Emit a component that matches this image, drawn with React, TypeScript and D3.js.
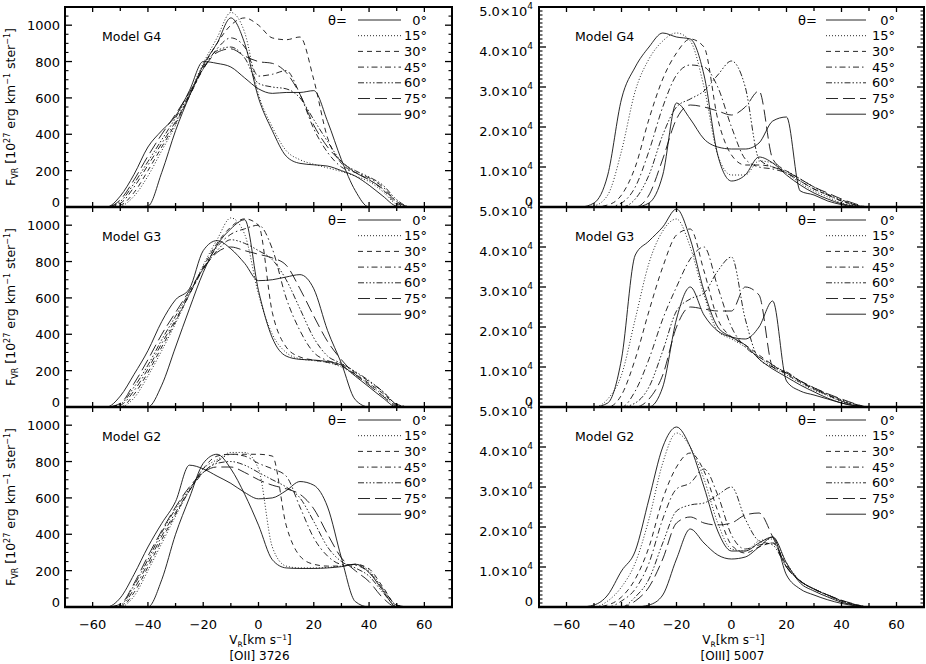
import React from "react";
import * as d3 from "d3";

// ---------- data ----------
const VELOCITY = [-60, -55, -50, -45, -40, -35, -30, -25, -20, -15, -10, -5, 0, 5, 10, 15, 20, 25, 30, 35, 40, 45, 50, 55, 60];
const ANGLE_LABELS = ["0°", "15°", "30°", "45°", "60°", "75°", "90°"];
const MODEL_NAMES = ["Model G4", "Model G3", "Model G2"];
const LINE_NAMES = ["[OII] 3726", "[OIII] 5007"];

const OII_TICKS = [0, 200, 400, 600, 800, 1000];
const OIII_TICKS = [0, 10000, 20000, 30000, 40000, 50000];
const VEL_TICKS = [-60, -40, -20, 0, 20, 40, 60];

// [OII] 3726, flux in 1e27 erg km^-1 ster^-1 ; rows: theta = 0,15,30,45,60,75,90
const G4_OII = [
  [0, 0, 0, 0, 5, 190, 420, 610, 780, 900, 1040, 900, 600, 420, 280, 240, 232, 225, 200, 170, 120, 60, 5, 0, 0],
  [0, 0, 5, 60, 170, 310, 450, 620, 790, 930, 1070, 960, 620, 440, 310, 260, 235, 215, 195, 170, 140, 85, 15, 0, 0],
  [0, 0, 10, 80, 200, 330, 460, 610, 770, 900, 1000, 1040, 1000, 930, 920, 935, 700, 380, 240, 190, 150, 95, 20, 0, 0],
  [0, 0, 20, 110, 230, 350, 470, 610, 760, 870, 930, 880, 720, 730, 750, 620, 430, 300, 220, 190, 160, 110, 30, 0, 0],
  [0, 0, 30, 130, 250, 370, 490, 620, 760, 860, 880, 820, 680, 660, 650, 600, 480, 360, 250, 200, 165, 120, 40, 0, 0],
  [0, 0, 40, 150, 280, 400, 510, 630, 760, 850, 870, 830, 800, 790, 740, 620, 450, 330, 250, 190, 150, 100, 30, 0, 0],
  [0, 0, 60, 180, 330, 420, 500, 640, 800, 790, 770, 710, 650, 625, 630, 630, 640, 470, 260, 90, 0, 0, 0, 0, 0],
];
const G3_OII = [
  [0, 0, 0, 0, 0, 120, 330, 540, 740, 890, 980, 1030, 640, 380, 280, 262, 258, 250, 230, 170, 110, 50, 0, 0, 0],
  [0, 0, 0, 50, 170, 310, 460, 620, 780, 920, 1040, 950, 620, 400, 300, 265, 255, 245, 220, 175, 125, 65, 8, 0, 0],
  [0, 0, 0, 70, 190, 330, 470, 620, 770, 900, 990, 1035, 1000, 520, 330, 275, 258, 245, 225, 180, 130, 75, 12, 0, 0],
  [0, 0, 10, 90, 210, 350, 480, 620, 760, 880, 950, 980, 1000, 870, 600, 420, 300, 255, 235, 190, 140, 85, 15, 0, 0],
  [0, 0, 15, 110, 230, 370, 500, 630, 760, 860, 920, 900, 860, 810, 700, 540, 380, 280, 240, 195, 145, 85, 15, 0, 0],
  [0, 0, 20, 130, 260, 400, 520, 640, 760, 850, 880, 860, 840, 820, 780, 650, 500, 360, 260, 180, 120, 60, 5, 0, 0],
  [0, 0, 60, 180, 310, 470, 590, 650, 860, 915, 870, 790, 695, 700, 715, 728, 650, 420, 240, 40, 0, 0, 0, 0, 0],
];
const G2_OII = [
  [0, 0, 0, 0, 0, 150, 400, 600, 790, 840, 760, 620, 450, 260, 215, 212, 212, 215, 222, 235, 190, 90, 0, 0, 0],
  [0, 0, 0, 60, 200, 350, 500, 640, 760, 810, 850, 850, 760, 330, 225, 215, 215, 218, 225, 235, 200, 100, 10, 0, 0],
  [0, 0, 0, 80, 220, 370, 510, 640, 760, 830, 840, 840, 840, 830, 450, 280, 235, 225, 225, 235, 210, 110, 10, 0, 0],
  [0, 0, 5, 100, 240, 390, 520, 640, 740, 800, 840, 830, 790, 760, 720, 550, 380, 280, 235, 230, 190, 100, 10, 0, 0],
  [0, 0, 10, 120, 260, 410, 540, 650, 740, 790, 800, 780, 740, 700, 660, 600, 470, 330, 250, 215, 170, 80, 5, 0, 0],
  [0, 0, 15, 130, 280, 420, 550, 660, 740, 770, 770, 740, 700, 670, 650, 620, 540, 400, 270, 200, 140, 50, 0, 0, 0],
  [0, 0, 50, 180, 330, 460, 580, 780, 760, 720, 680, 630, 595, 600, 640, 690, 670, 550, 270, 30, 0, 0, 0, 0, 0],
];

// [OIII] 5007
const G4_OIII = [
  [0, 0, 1000, 8000, 27000, 35000, 40000, 43500, 42500, 42000, 33000, 13000, 6500, 8000, 12500, 11000, 8000, 5500, 3500, 2000, 800, 200, 0, 0, 0],
  [0, 0, 300, 3000, 14000, 29000, 37000, 41500, 43500, 41500, 30000, 13000, 8000, 8000, 11500, 11000, 8500, 6000, 4000, 2500, 1000, 300, 0, 0, 0],
  [0, 0, 0, 500, 3000, 10000, 22000, 32000, 38500, 42000, 40000, 22000, 13000, 10500, 10500, 10000, 8500, 6500, 4500, 3000, 1500, 500, 0, 0, 0],
  [0, 0, 0, 0, 1000, 5000, 14000, 25000, 33000, 35500, 35000, 30000, 20000, 12000, 10000, 9500, 8500, 6500, 4500, 3000, 1500, 500, 0, 0, 0],
  [0, 0, 0, 0, 0, 2000, 8000, 18000, 25000, 27000, 29000, 33000, 36500, 30000, 12000, 10000, 9000, 7000, 5000, 3200, 1800, 600, 0, 0, 0],
  [0, 0, 0, 0, 0, 0, 3000, 12000, 22000, 25500, 25000, 24000, 23000, 25000, 29000, 12000, 9000, 7000, 5000, 3500, 2000, 800, 0, 0, 0],
  [0, 0, 0, 0, 0, 0, 1000, 8000, 26000, 22000, 17000, 15000, 14500, 14500, 16000, 21500, 22500, 4000, 3000, 1500, 600, 0, 0, 0, 0],
];
const G3_OIII = [
  [0, 0, 0, 1000, 12000, 38000, 41500, 45000, 49500, 42000, 29000, 20000, 17500, 15500, 12000, 9500, 7500, 5500, 3800, 2200, 1000, 300, 0, 0, 0],
  [0, 0, 0, 2000, 8000, 22000, 36000, 44000, 47000, 40000, 28000, 19000, 17000, 15000, 12500, 10000, 8000, 6000, 4200, 2800, 1400, 500, 0, 0, 0],
  [0, 0, 0, 0, 3000, 12000, 24000, 35000, 43000, 44500, 34000, 22000, 17500, 15500, 13000, 10500, 8200, 6200, 4500, 3000, 1500, 500, 0, 0, 0],
  [0, 0, 0, 0, 0, 4000, 12000, 22000, 30000, 37000, 40000, 30000, 20000, 15000, 12500, 10500, 8500, 6500, 4500, 3000, 1500, 500, 0, 0, 0],
  [0, 0, 0, 0, 0, 1000, 5000, 14000, 24000, 27000, 28500, 34000, 37500, 22000, 12000, 10000, 8800, 6500, 4800, 3200, 1800, 700, 0, 0, 0],
  [0, 0, 0, 0, 0, 0, 2000, 8000, 20000, 25000, 24500, 24000, 24000, 30000, 28000, 10000, 8500, 6500, 4800, 3300, 2000, 800, 0, 0, 0],
  [0, 0, 0, 0, 0, 0, 0, 5000, 22000, 30000, 23000, 19000, 17500, 17000, 20000, 26500, 6500, 4000, 3000, 2000, 1000, 300, 0, 0, 0],
];
const G2_OIII = [
  [0, 0, 500, 3000, 9000, 14000, 27000, 40000, 45000, 40000, 30000, 19000, 14000, 14000, 16000, 17500, 11000, 6000, 4000, 2500, 1200, 400, 0, 0, 0],
  [0, 0, 0, 1500, 5000, 11000, 22000, 36000, 43500, 40000, 32000, 21000, 14500, 14000, 16500, 17000, 11000, 6500, 4500, 2800, 1400, 500, 0, 0, 0],
  [0, 0, 0, 500, 2500, 7000, 15000, 27000, 35000, 38500, 34000, 24000, 15500, 13500, 15000, 16000, 10500, 6500, 4500, 3000, 1500, 500, 0, 0, 0],
  [0, 0, 0, 0, 1500, 4500, 11000, 22000, 29500, 31000, 34500, 28000, 18000, 14500, 15500, 16000, 10000, 6500, 4500, 3000, 1600, 600, 0, 0, 0],
  [0, 0, 0, 0, 0, 2500, 7000, 16000, 24000, 25500, 26000, 28000, 30000, 22000, 16500, 15500, 10000, 6500, 4500, 3000, 1600, 600, 0, 0, 0],
  [0, 0, 0, 0, 0, 1500, 5000, 12000, 21000, 22500, 21000, 20500, 21000, 23000, 23500, 17500, 10000, 6500, 4500, 3000, 1700, 700, 0, 0, 0],
  [0, 0, 0, 0, 0, 0, 500, 3000, 12000, 19500, 16000, 13000, 12000, 12500, 15000, 17500, 8000, 4500, 3000, 1800, 900, 300, 0, 0, 0],
];

const OII_PANELS = [G4_OII, G3_OII, G2_OII];
const OIII_PANELS = [G4_OIII, G3_OIII, G2_OIII];

// ---------- styling ----------
const FONT = "'DejaVu Sans', 'Liberation Sans', sans-serif";
const DASHES = ["", "1,2", "5,4", "6,3,1.5,3", "6,2,1.5,2,1.5,2,1.5,2", "12,5", ""];
const W = 926;
const H = 664;
const PANEL_TOPS = [7, 207, 407];
const PANEL_H = 200;
const COLS = [
  { x0: 65, x1: 452, yMax: 1100, ticks: OII_TICKS, minor: 50, legend: { theta: 328, l0: 358, l1: 401, lab: 427 }, model: 102 },
  { x0: 539, x1: 924, yMax: 50000, ticks: OIII_TICKS, minor: 1000, legend: { theta: 798, l0: 826, l1: 866, lab: 895 }, model: 575 },
];

type PanelProps = { col: number; row: number; series: number[][] };

function Panel({ col, row, series }: PanelProps) {
  const c = COLS[col];
  const top = PANEL_TOPS[row];
  const bottom = top + PANEL_H;
  const x = d3.scaleLinear().domain([-70, 70]).range([c.x0, c.x1]);
  const y = d3.scaleLinear().domain([0, c.yMax]).range([bottom, top]);
  const line = d3
    .line<number>()
    .x((_, i) => x(VELOCITY[i]))
    .y((d) => y(d))
    .curve(d3.curveMonotoneX);
  const clipId = `clip-${col}-${row}`;
  const minorY = d3.range(0, c.yMax + 1, c.minor).filter((v) => !c.ticks.includes(v));
  const xTicksAll = d3.range(-70, 71, 10);
  const isOIII = col === 1;
  const lg = c.legend;
  const midX = (c.x0 + c.x1) / 2;

  return (
    <g>
      <defs>
        <clipPath id={clipId}>
          <rect x={c.x0} y={top} width={c.x1 - c.x0} height={PANEL_H} />
        </clipPath>
      </defs>
      <g clipPath={`url(#${clipId})`}>
        {series.map((s, i) => (
          <path
            key={i}
            d={line(s) || ""}
            fill="none"
            stroke="#111"
            strokeWidth={0.9}
            strokeDasharray={DASHES[i] || undefined}
          />
        ))}
      </g>
      {/* frame */}
      <line x1={c.x0} x2={c.x0} y1={top} y2={bottom} stroke="#000" strokeWidth={2} />
      <line x1={c.x1} x2={c.x1} y1={top} y2={bottom} stroke="#000" strokeWidth={2} />
      <line x1={c.x0 - 1} x2={c.x1 + 1} y1={top} y2={top} stroke="#000" strokeWidth={2.2} />
      <line x1={c.x0 - 1} x2={c.x1 + 1} y1={bottom} y2={bottom} stroke="#000" strokeWidth={2.6} />
      {/* y ticks */}
      {c.ticks.map((t) => (
        <g key={`yt${t}`}>
          <line x1={c.x0} x2={c.x0 + 7} y1={y(t)} y2={y(t)} stroke="#000" strokeWidth={1.3} />
          <line x1={c.x1} x2={c.x1 - 7} y1={y(t)} y2={y(t)} stroke="#000" strokeWidth={1.3} />
        </g>
      ))}
      {minorY.map((t) => (
        <g key={`ym${t}`}>
          <line x1={c.x0} x2={c.x0 + 3.5} y1={y(t)} y2={y(t)} stroke="#000" strokeWidth={1.1} />
          <line x1={c.x1} x2={c.x1 - 3.5} y1={y(t)} y2={y(t)} stroke="#000" strokeWidth={1.1} />
        </g>
      ))}
      {/* x ticks */}
      {xTicksAll.map((t) => {
        const len = t % 20 === 0 ? 5 : 4;
        return (
          <g key={`xt${t}`}>
            <line x1={x(t)} x2={x(t)} y1={bottom} y2={bottom - len} stroke="#000" strokeWidth={1.3} />
            <line x1={x(t)} x2={x(t)} y1={top} y2={top + len} stroke="#000" strokeWidth={1.3} />
          </g>
        );
      })}
      {/* y tick labels */}
      {c.ticks.map((t) =>
        isOIII ? (
          t === 0 ? (
            <text key={`yl${t}`} x={c.x0 - 6} y={y(t) - 1} textAnchor="end" fontSize={13} fontFamily={FONT}>
              0
            </text>
          ) : (
            <text key={`yl${t}`} x={c.x0 - 6} y={y(t) + 9} textAnchor="end" fontSize={13} fontFamily={FONT}>
              {(t / 10000).toFixed(1)}×10
              <tspan dy={-7} fontSize={9}>
                4
              </tspan>
            </text>
          )
        ) : (
          <text
            key={`yl${t}`}
            x={c.x0 - 5}
            y={t === 0 ? y(t) : y(t) + 5}
            textAnchor="end"
            fontSize={13}
            fontFamily={FONT}
          >
            {t}
          </text>
        )
      )}
      {/* x tick labels (bottom row only) */}
      {row === 2 &&
        VEL_TICKS.map((t) => (
          <text key={`xl${t}`} x={x(t)} y={bottom + 22} textAnchor="middle" fontSize={13} fontFamily={FONT}>
            {t < 0 ? `−${-t}` : `${t}`}
          </text>
        ))}
      {/* model label */}
      <text x={c.model} y={top + 34} fontSize={12.5} fontFamily={FONT}>
        {MODEL_NAMES[row]}
      </text>
      {/* legend */}
      <text x={lg.theta} y={top + 13 + 4.5} fontSize={13} fontFamily={FONT}>
        θ=
      </text>
      {ANGLE_LABELS.map((a, i) => {
        const ly = top + 13 + i * 15.7;
        return (
          <g key={`lg${i}`}>
            <line
              x1={lg.l0}
              x2={lg.l1}
              y1={ly}
              y2={ly}
              stroke="#111"
              strokeWidth={0.9}
              strokeDasharray={DASHES[i] || undefined}
            />
            <text x={lg.lab} y={ly + 4.5} textAnchor="end" fontSize={13} fontFamily={FONT}>
              {a}
            </text>
          </g>
        );
      })}
      {/* y title (left column) */}
      {col === 0 && (
        <text
          transform={`translate(15, ${top + PANEL_H / 2}) rotate(-90)`}
          textAnchor="middle"
          fontSize={12.5}
          fontFamily={FONT}
        >
          F
          <tspan dy={3} fontSize={8}>
            VR
          </tspan>
          <tspan dy={-3}> [10</tspan>
          <tspan dy={-5} fontSize={8}>
            27
          </tspan>
          <tspan dy={5}> erg km</tspan>
          <tspan dy={-5} fontSize={8}>
            −1
          </tspan>
          <tspan dy={5}> ster</tspan>
          <tspan dy={-5} fontSize={8}>
            −1
          </tspan>
          <tspan dy={5}>]</tspan>
        </text>
      )}
      {/* x title */}
      {row === 2 && (
        <g>
          <text x={midX + 2} y={bottom + 37} textAnchor="middle" fontSize={12} fontFamily={FONT}>
            V
            <tspan dy={2.5} fontSize={7.5}>
              R
            </tspan>
            <tspan dy={-2.5}>[km s</tspan>
            <tspan dy={-4.5} fontSize={7.5}>
              −1
            </tspan>
            <tspan dy={4.5}>]</tspan>
          </text>
          <text x={midX + 1} y={bottom + 52.5} textAnchor="middle" fontSize={12} fontFamily={FONT}>
            {LINE_NAMES[col]}
          </text>
        </g>
      )}
    </g>
  );
}

export default function App() {
  return (
    <>
      <style>{`body{margin:0;background:#fff}`}</style>
      <svg width={W} height={H} style={{ display: "block", background: "#fff" }}>
        {OII_PANELS.map((s, r) => (
          <Panel key={`l${r}`} col={0} row={r} series={s} />
        ))}
        {OIII_PANELS.map((s, r) => (
          <Panel key={`r${r}`} col={1} row={r} series={s} />
        ))}
      </svg>
    </>
  );
}
